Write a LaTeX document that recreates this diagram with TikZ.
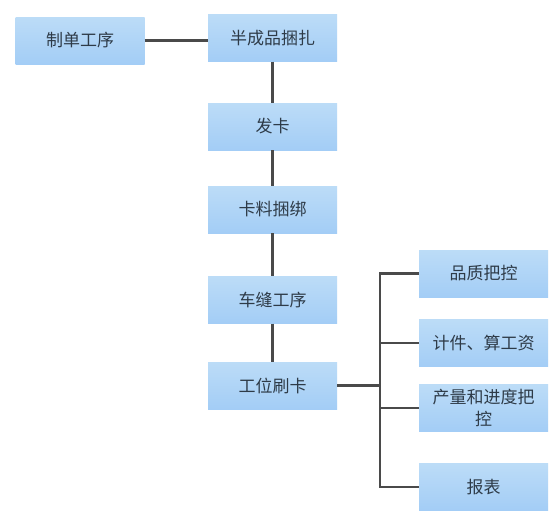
\documentclass[tikz,border=0pt]{standalone}
\usepackage{fontspec}
\newfontfamily\cjk{Noto Sans CJK SC}
\definecolor{boxtop}{HTML}{BCDCF7}
\definecolor{boxbot}{HTML}{A3CDF6}
\definecolor{txt}{HTML}{2E3B48}
\definecolor{ln}{HTML}{4A4A4A}
\tikzset{
  box/.style={rectangle, minimum width=129pt, minimum height=47pt, inner sep=2pt,
    top color=boxtop, bottom color=boxbot, draw=none, text=txt,
    font=\cjk\fontsize{17}{22}\selectfont, align=center},
  link/.style={draw=ln, line width=2.2pt}
}
\begin{document}
\begin{tikzpicture}[x=1pt,y=-1pt]
\useasboundingbox (0,0) rectangle (560,522);
\fill[white] (0,0) rectangle (560,522);
\node[box] (a) at (80,40.5) {制单工序};
\node[box] (b) at (272.5,38) {半成品捆扎};
\node[box] (c) at (272.5,126.5) {发卡};
\node[box] (d) at (272.5,209.5) {卡料捆绑};
\node[box] (e) at (272.5,300) {车缝工序};
\node[box] (f) at (272.5,385.5) {工位刷卡};
\node[box] (g) at (483.5,273.5) {品质把控};
\node[box] (h) at (483.5,343) {计件、算工资};
\node[box] (i) at (483.5,408) {产量和进度把\\控};
\node[box] (j) at (483.5,487) {报表};
\coordinate (bus) at (380,385.5);
\draw[link] (a.east) -- (a.east -| b.west);
\draw[link] (b) -- (c);
\draw[link] (c) -- (d);
\draw[link] (d) -- (e);
\draw[link] (e) -- (f);
\draw[link] (f.east) -- (bus);
\draw[link] (g.west) -| (bus);
\draw[link] (h.west) -- (h.west -| bus);
\draw[link] (i.west) -- (i.west -| bus);
\draw[link] (j.west) -| (bus);
\end{tikzpicture}
\end{document}
